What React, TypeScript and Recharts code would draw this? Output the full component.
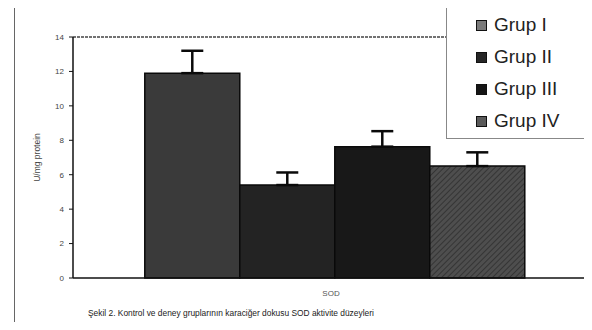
import React from "react";
import { BarChart, Bar, XAxis, YAxis, ErrorBar, ReferenceLine } from "recharts";

const categories = ["SOD"];
const groupNames = ["Grup I", "Grup II", "Grup III", "Grup IV"];
const means = [11.9, 5.4, 7.63, 6.5];
const plusErrors = [1.3, 0.73, 0.9, 0.8];
const yTicks = [0, 2, 4, 6, 8, 10, 12, 14];
const yLabel = "U/mg protein";
const caption = "Şekil 2. Kontrol ve deney gruplarının karaciğer dokusu SOD aktivite düzeyleri";

const barFills = ["#3a3a3a", "#232323", "#181818", "url(#hatch)"];
const legendFills = ["#7a7a7a", "#262626", "#151515", "#5a5a5a"];

const data = categories.map((c) => {
  const row: Record<string, any> = { category: c };
  groupNames.forEach((_, i) => {
    row["g" + i] = means[i];
    row["e" + i] = [0, plusErrors[i]];
  });
  return row;
});

export default function App() {
  return (
    <div
      style={{
        position: "relative",
        margin: -8,
        width: 592,
        height: 330,
        overflow: "hidden",
        background: "#fff",
        fontFamily: "Liberation Sans, Arial, sans-serif",
      }}
    >
      {/* outer frame */}
      <div style={{ position: "absolute", left: 14, top: 5, width: 1, height: 325, background: "#666" }} />
      <div style={{ position: "absolute", left: 14, top: 5, width: 578, height: 1, background: "#aaa" }} />
      <BarChart
        width={600}
        height={330}
        data={data}
        margin={{ top: 37, right: 3, left: 0, bottom: 0 }}
        barCategoryGap="13.7%"
        barGap={0}
        style={{ position: "absolute", left: 0, top: 0 }}
      >
        <defs>
          <pattern id="hatch" patternUnits="userSpaceOnUse" width="4" height="4" patternTransform="rotate(45)">
            <rect width="4" height="4" fill="#4e4e4e" />
            <line x1="0" y1="0" x2="0" y2="4" stroke="#2e2e2e" strokeWidth="1.6" />
          </pattern>
        </defs>
        <XAxis
          dataKey="category"
          height={52}
          tickLine={false}
          axisLine={{ stroke: "#111", strokeWidth: 1.5 }}
          tick={{ fontSize: 8, fill: "#555", dx: -4 }}
          tickMargin={6}
        />
        <YAxis
          domain={[0, 14]}
          ticks={yTicks}
          width={73}
          axisLine={{ stroke: "#111", strokeWidth: 1.5 }}
          tickLine={{ stroke: "#111" }}
          tickSize={4}
          tick={{ fontSize: 8, fill: "#444" }}
          tickMargin={5}
          label={{ value: yLabel, angle: -90, position: "insideLeft", offset: 37, style: { fontSize: 8.5, fill: "#444", textAnchor: "middle" } }}
        />
        <ReferenceLine y={14} stroke="#444" strokeDasharray="3 1" strokeWidth={1.3} />
        {groupNames.map((g, i) => (
          <Bar
            key={g}
            dataKey={"g" + i}
            name={g}
            fill={barFills[i]}
            stroke="#0a0a0a"
            strokeWidth={1.5}
            isAnimationActive={false}
          >
            <ErrorBar dataKey={"e" + i} width={11} stroke="#0a0a0a" strokeWidth={2.5} direction="y" />
          </Bar>
        ))}
      </BarChart>
      {/* legend */}
      <div
        style={{
          position: "absolute",
          left: 446,
          top: 5,
          width: 160,
          height: 132,
          border: "1px solid #888",
          background: "#fff",
        }}
      >
        {groupNames.map((g, i) => (
          <div
            key={g}
            style={{ position: "absolute", left: 29, top: 7 + i * 32, display: "flex", alignItems: "center", height: 24 }}
          >
            <div
              style={{
                width: 9,
                height: 9,
                background: legendFills[i],
                border: "1.5px solid #111",
                marginRight: 7,
              }}
            />
            <span style={{ fontSize: 19, color: "#222" }}>{g}</span>
          </div>
        ))}
      </div>
      <div
        style={{
          position: "absolute",
          left: 88,
          top: 308,
          fontSize: 8.4,
          color: "#222",
          whiteSpace: "nowrap",
        }}
      >
        {caption}
      </div>
    </div>
  );
}
